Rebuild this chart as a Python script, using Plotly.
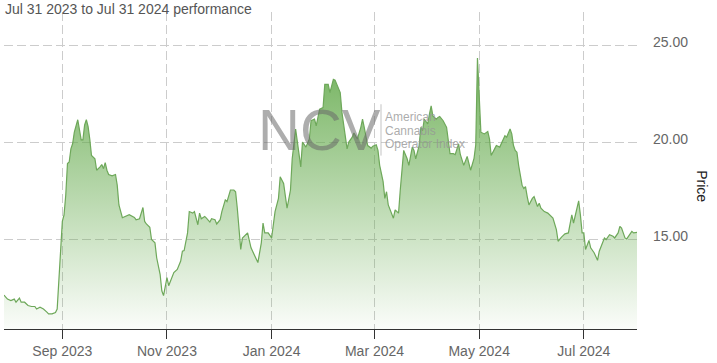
import plotly.graph_objects as go

dates = [
    "2023-07-29", "2023-07-31", "2023-08-02", "2023-08-04", "2023-08-05", "2023-08-07", "2023-08-08",
    "2023-08-10", "2023-08-12", "2023-08-14", "2023-08-16", "2023-08-17", "2023-08-19", "2023-08-21",
    "2023-08-23", "2023-08-24", "2023-08-26", "2023-08-28", "2023-08-29", "2023-08-30", "2023-08-31",
    "2023-09-01", "2023-09-02", "2023-09-03", "2023-09-04", "2023-09-05", "2023-09-06", "2023-09-07",
    "2023-09-08", "2023-09-10", "2023-09-11", "2023-09-12", "2023-09-13", "2023-09-14", "2023-09-15",
    "2023-09-16", "2023-09-17", "2023-09-18", "2023-09-20", "2023-09-21", "2023-09-23", "2023-09-24",
    "2023-09-25", "2023-09-26", "2023-09-27", "2023-09-28", "2023-09-30", "2023-10-02", "2023-10-03",
    "2023-10-04", "2023-10-06", "2023-10-08", "2023-10-10", "2023-10-13", "2023-10-14", "2023-10-16",
    "2023-10-18", "2023-10-19", "2023-10-20", "2023-10-22", "2023-10-23", "2023-10-25", "2023-10-26",
    "2023-10-28", "2023-10-29", "2023-10-30", "2023-11-01", "2023-11-02", "2023-11-04", "2023-11-05",
    "2023-11-07", "2023-11-09", "2023-11-10", "2023-11-11", "2023-11-13", "2023-11-14", "2023-11-16",
    "2023-11-17", "2023-11-19", "2023-11-20", "2023-11-21", "2023-11-23", "2023-11-24", "2023-11-26",
    "2023-11-27", "2023-11-29", "2023-11-30", "2023-12-02", "2023-12-03", "2023-12-05", "2023-12-06",
    "2023-12-07", "2023-12-08", "2023-12-10", "2023-12-11", "2023-12-12", "2023-12-14", "2023-12-15",
    "2023-12-18", "2023-12-20", "2023-12-22", "2023-12-24", "2023-12-26", "2023-12-27", "2023-12-28",
    "2023-12-30", "2024-01-01", "2024-01-03", "2024-01-05", "2024-01-06", "2024-01-08", "2024-01-10",
    "2024-01-12", "2024-01-13", "2024-01-15", "2024-01-16", "2024-01-18", "2024-01-19", "2024-01-21",
    "2024-01-23", "2024-01-24", "2024-01-26", "2024-01-27", "2024-01-29", "2024-01-31", "2024-02-01",
    "2024-02-03", "2024-02-04", "2024-02-06", "2024-02-07", "2024-02-09", "2024-02-10", "2024-02-11",
    "2024-02-13", "2024-02-14", "2024-02-15", "2024-02-17", "2024-02-18", "2024-02-20", "2024-02-22",
    "2024-02-23", "2024-02-24", "2024-02-26", "2024-02-28", "2024-02-29", "2024-03-02", "2024-03-03",
    "2024-03-04", "2024-03-06", "2024-03-07", "2024-03-08", "2024-03-09", "2024-03-11", "2024-03-12",
    "2024-03-13", "2024-03-15", "2024-03-16", "2024-03-17", "2024-03-18", "2024-03-20", "2024-03-21",
    "2024-03-23", "2024-03-24", "2024-03-25", "2024-03-27", "2024-03-28", "2024-03-29", "2024-03-30",
    "2024-04-01", "2024-04-02", "2024-04-03", "2024-04-04", "2024-04-06", "2024-04-07", "2024-04-08",
    "2024-04-10", "2024-04-11", "2024-04-12", "2024-04-14", "2024-04-16", "2024-04-17", "2024-04-18",
    "2024-04-19", "2024-04-20", "2024-04-22", "2024-04-24", "2024-04-26", "2024-04-28", "2024-04-29",
    "2024-04-30", "2024-05-02", "2024-05-04", "2024-05-06", "2024-05-07", "2024-05-08", "2024-05-10",
    "2024-05-11", "2024-05-13", "2024-05-15", "2024-05-16", "2024-05-17", "2024-05-19", "2024-05-20",
    "2024-05-21", "2024-05-22", "2024-05-23", "2024-05-24", "2024-05-26", "2024-05-27", "2024-05-28",
    "2024-05-29", "2024-05-30", "2024-06-01", "2024-06-02", "2024-06-04", "2024-06-05", "2024-06-06",
    "2024-06-08", "2024-06-10", "2024-06-12", "2024-06-13", "2024-06-15", "2024-06-16", "2024-06-18",
    "2024-06-20", "2024-06-22", "2024-06-23", "2024-06-24", "2024-06-25", "2024-06-27", "2024-06-28",
    "2024-06-29", "2024-06-30", "2024-07-01", "2024-07-02", "2024-07-04", "2024-07-05", "2024-07-07",
    "2024-07-09", "2024-07-10", "2024-07-12", "2024-07-13", "2024-07-14", "2024-07-16", "2024-07-18",
    "2024-07-19", "2024-07-21", "2024-07-22", "2024-07-23", "2024-07-25", "2024-07-26", "2024-07-28",
    "2024-07-29", "2024-07-30", "2024-08-01",
]

prices = [
    12.16, 11.95, 11.87, 11.95, 11.79, 12.00, 11.79,
    11.79, 11.62, 11.57, 11.57, 11.44, 11.53, 11.44,
    11.28, 11.19, 11.19, 11.26, 11.44, 12.72, 14.44,
    15.95, 16.29, 17.31, 18.93, 19.01, 19.69, 19.95,
    20.55, 21.19, 20.55, 20.15, 20.15, 20.92, 21.19,
    20.85, 20.20, 19.35, 19.18, 18.59, 18.76, 18.88,
    18.67, 18.98, 18.59, 18.37, 18.30, 18.37, 17.82,
    16.80, 16.14, 16.21, 16.30, 16.16, 16.04, 16.09,
    16.67, 15.95, 15.82, 15.65, 15.02, 14.85, 14.08,
    13.23, 12.38, 12.13, 13.06, 12.64, 13.06, 13.32,
    13.48, 13.91, 14.42, 14.45, 15.36, 16.46, 16.38,
    16.46, 15.78, 16.38, 16.09, 16.21, 16.12, 15.92,
    16.09, 16.04, 15.82, 16.04, 16.46, 17.06, 16.97,
    17.31, 17.57, 17.57, 17.48, 16.63, 14.51, 15.10,
    15.36, 14.59, 14.17, 13.83, 14.85, 15.87, 15.36,
    15.36, 15.10, 16.46, 17.14, 18.25, 17.91, 16.63,
    17.57, 19.18, 20.71, 20.04, 18.76, 20.04, 19.78,
    20.20, 21.14, 21.22, 20.88, 21.73, 21.82, 23.01,
    23.01, 22.59, 23.27, 23.23, 22.84, 22.59, 21.57,
    20.29, 19.69, 20.04, 20.29, 20.51, 20.20, 20.80,
    21.22, 20.80, 19.86, 19.73, 19.83, 19.90, 19.61,
    18.84, 18.00, 17.14, 17.48, 16.80, 16.29, 16.12,
    16.55, 16.38, 17.57, 18.50, 19.61, 19.18, 18.84,
    19.78, 19.61, 19.18, 19.86, 20.80, 20.63, 21.22,
    20.97, 21.48, 21.90, 21.39, 21.22, 21.31, 21.36,
    21.14, 20.97, 20.80, 19.44, 19.44, 19.39, 19.69,
    19.95, 19.40, 18.84, 19.30, 18.59, 19.20, 19.90,
    24.37, 20.55, 20.46, 20.58, 20.20, 19.35, 19.69,
    19.86, 19.78, 20.20, 20.37, 20.29, 20.71, 20.46,
    19.86, 19.61, 19.52, 18.84, 17.82, 17.65, 17.74,
    17.23, 16.80, 17.14, 17.23, 16.72, 16.89, 16.63,
    16.46, 16.38, 16.21, 16.12, 15.53, 14.93, 15.14,
    15.31, 15.36, 15.78, 16.29, 15.87, 16.55, 17.01,
    16.29, 15.36, 15.36, 14.51, 14.97, 14.59, 14.34,
    13.95, 14.42, 14.93, 15.10, 15.02, 15.27, 15.19,
    15.10, 15.36, 15.70, 15.61, 15.10, 15.05, 15.36,
    15.44, 15.36, 15.39,
]

y_ticks = [15, 20, 25]
title_text = "Jul 31 2023 to Jul 31 2024 performance"
y_title = "Price"
watermark_big = "NCV"
watermark_lines = ["American", "Cannabis", "Operator Index"]

FONT = "Liberation Sans, Arial, sans-serif"
Y_MIN, Y_MAX = 10.41, 26.74

fig = go.Figure()
fig.add_trace(go.Scatter(
    x=dates, y=prices, mode="lines",
    line=dict(color="rgb(110,168,90)", width=1.2),
    fill="tozeroy",
    fillgradient=dict(
        type="vertical",
        colorscale=[[0, "rgba(100,170,76,0.02)"], [1, "rgba(100,170,76,0.9)"]],
        start=Y_MIN, stop=max(prices),
    ),
    hoverinfo="skip", showlegend=False,
))

grid = dict(showgrid=True, gridcolor="#cccccc", gridwidth=1, griddash="9px,4px")

fig.update_xaxes(
    type="date", range=["2023-07-29", "2024-08-01"],
    tick0="2023-09-01", dtick="M2", tickformat="%b %Y",
    showline=True, linecolor="#333333", linewidth=1,
    ticks="outside", ticklen=9, tickcolor="#333333", tickwidth=1,
    tickfont=dict(family=FONT, size=14, color="#666666"),
    zeroline=False, **grid,
)
fig.update_yaxes(
    range=[Y_MIN, Y_MAX], side="right", tickvals=y_ticks, tickformat=".2f",
    showline=False, ticks="", zeroline=False,
    tickfont=dict(family=FONT, size=14, color="#666666"),
    ticklabelstandoff=15, ticklabelshift=-4,
    **grid,
)

annotations = [
    dict(text=title_text, xref="paper", yref="paper", x=0, y=1, xanchor="left", yanchor="middle",
         xshift=-1, yshift=3, showarrow=False, font=dict(family=FONT, size=14, color="#555555")),
    dict(text=y_title, xref="paper", yref="paper", x=1.1022, y=0.4516, textangle=90,
         xanchor="center", yanchor="middle",
         showarrow=False, font=dict(family=FONT, size=14, color="#222222")),
    dict(text=watermark_big, xref="paper", yref="paper", x=0.4992, y=0.628, xanchor="center",
         yanchor="middle", showarrow=False, font=dict(family=FONT, size=58, color="rgba(105,105,105,0.55)")),
]
for i, line in enumerate(watermark_lines):
    annotations.append(dict(
        text=line, xref="paper", yref="paper", x=0.6019, y=[0.669, 0.625, 0.584][i],
        xanchor="left", yanchor="middle", xshift=-2, showarrow=False,
        font=dict(family=FONT, size=12, color="rgba(150,150,150,0.8)"),
    ))

fig.update_layout(
    width=717, height=363,
    margin=dict(l=4, r=80, t=12, b=31),
    paper_bgcolor="white", plot_bgcolor="white",
    annotations=annotations,
    shapes=[dict(type="line", xref="paper", yref="paper", x0=0.5956, x1=0.5956, y0=0.547, y1=0.709,
                 line=dict(color="rgba(180,180,180,0.8)", width=1))],
    font=dict(family=FONT),
)

fig.write_html(
    "out.html",
    config={"displayModeBar": False},
    post_script="document.body.style.margin='0';document.body.style.overflow='hidden';",
)
